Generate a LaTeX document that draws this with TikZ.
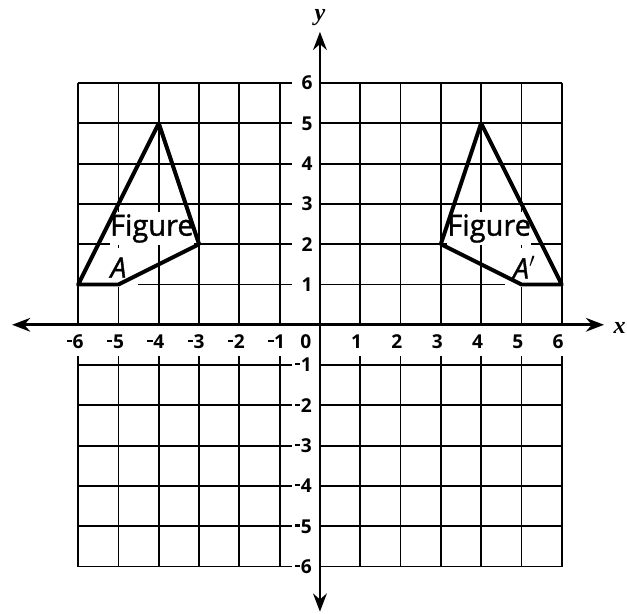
\documentclass[tikz,border=0pt]{standalone}
\usepackage{fontspec}
\setmainfont{Open Sans}
\newfontfamily\axisfont{Liberation Serif}
\newfontfamily\figfont[FakeBold=1.2]{Open Sans}
\usetikzlibrary{arrows.meta,positioning}
\newcommand{\ngs}{\llap{\rule[0.62ex]{0.13cm}{0.055cm}\hspace{0.015cm}}}

\begin{document}
\begin{tikzpicture}[
    gridline/.style={line width=1.3pt},
    axis/.style={line width=1.9pt, {Stealth[length=0.45cm,width=0.34cm]}-{Stealth[length=0.45cm,width=0.34cm]}},
    outline/.style={line width=2.8pt, line join=round},
    tick/.style={font=\fontsize{13.5}{13.5}\selectfont\bfseries, inner sep=0pt},
    axlabel/.style={font=\fontsize{17}{17}\axisfont\bfseries\itshape, inner sep=0pt},
    figlabel/.style={fill=white, font=\fontsize{20.5}{21}\figfont, inner sep=0pt, minimum height=0.82cm},
    ptlabel/.style={fill=white, font=\fontsize{20}{20}\figfont\itshape, inner sep=0pt, minimum height=0.95cm, minimum width=0.95cm}
]
\useasboundingbox (-7.94,-7.17) rectangle (7.62,8.06);

% Grid
\foreach \x in {-6,-5,...,-1,1,2,...,6} {
    \draw[gridline] (\x,0) -- (\x,6);
    \draw[gridline] (\x,-0.78) -- (\x,-6);
}
\foreach \y in {-6,-5,...,-1,1,2,...,6} {
    \draw[gridline] (-6,\y) -- (-0.7,\y);
    \draw[gridline] (0,\y) -- (6,\y);
}

% Tick labels
\foreach \n in {1,...,6} {
    \node[tick] (xp\n) at (\n-0.09,-0.42) {\n};
    \node[tick] (xn\n) at (-\n,-0.42) {\ngs\n};
    \node[tick] (yp\n) at (-0.32,\n) {\n};
    \node[tick] (yn\n) at (-0.34,-\n) {\ngs\n};
}
\node[tick] (zero) at (-0.35,-0.42) {0};

% Labels
\node[figlabel] (figA) at (-4.17,2.39) {Figure};
\node[ptlabel] (ptA) at (-5.0,1.42) {A};
\node[figlabel] (figB) at (4.2,2.39) {Figure};
\node[ptlabel] (ptB) at (5.07,1.42) {A$'$};

% Figure A and its image
\coordinate (a1) at (-6,1);
\coordinate (a2) at (-4,5);
\coordinate (a3) at (-3,2);
\coordinate (a4) at (-5,1);
\coordinate (b1) at (6,1);
\coordinate (b2) at (4,5);
\coordinate (b3) at (3,2);
\coordinate (b4) at (5,1);
\draw[outline] (a1) -- (a2) -- (a3) -- (a4) -- cycle;
\draw[outline] (b1) -- (b2) -- (b3) -- (b4) -- cycle;

% Axes
\coordinate (xmin) at (-7.64,0);
\coordinate (xmax) at (7.05,0);
\coordinate (ymin) at (0,-7.12);
\coordinate (ymax) at (0,7.27);
\draw[axis] (xmin) -- (xmax);
\draw[axis] (ymin) -- (ymax);
\node[axlabel] (xlab) at (7.44,-0.07) {x};
\node[axlabel] (ylab) at (0,7.62) {y};

\end{tikzpicture}
\end{document}
